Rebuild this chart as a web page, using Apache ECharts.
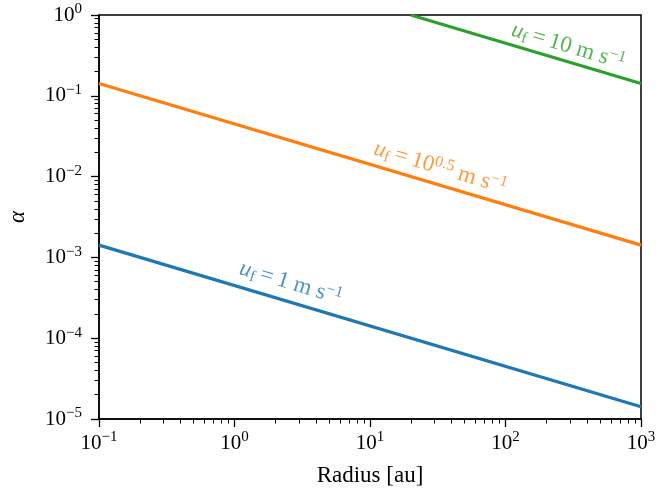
<!DOCTYPE html>
<html lang="en">
<head>
<meta charset="UTF-8">
<title>alpha vs radius</title>
<script src="https://cdn.jsdelivr.net/npm/echarts@6/dist/echarts.min.js"></script>
<style>
  html, body { margin: 0; padding: 0; background: #fff; }
  #main { width: 664px; height: 498px; }
</style>
</head>
<body>
<div id="main"></div>
<script>
// values
var radius = [0.1, 1000];
var alphaSlow = [1.42e-3, 1.42e-5];   // u_f = 1 m/s
var alphaMid = [0.142, 1.42e-3];      // u_f = 10^0.5 m/s
var radiusFast = [20, 1000];
var alphaFast = [1.0, 0.142];         // u_f = 10 m/s

// where the line labels sit (data coords, label centre)
var labelRadius = [2.6, 33, 290];
var labelAlpha = [4.8e-4, 1.28e-2, 0.41];
var labelText = [
    '{i|u}{sub|f}{t|\u2009=\u20091 m s}{sup|\u22121}',
    '{i|u}{sub|f}{t|\u2009=\u200910}{sup|0.5}{t| m s}{sup|\u22121}',
    '{i|u}{sub|f}{t|\u2009=\u200910 m s}{sup|\u22121}'
];
var colors = ['#1f77b4', '#ff7f0e', '#2ca02c'];

var FONT = 'Liberation Serif';

function richStyles(size, color) {
    var small = Math.round(size * 0.7);
    return {
        t: { fontFamily: FONT, fontSize: size, color: color, lineHeight: 26 },
        i: { fontFamily: FONT, fontStyle: 'italic', fontSize: size, color: color, lineHeight: 26 },
        sub: { fontFamily: FONT, fontSize: small, color: color, lineHeight: 15, verticalAlign: 'bottom' },
        sup: { fontFamily: FONT, fontSize: small, color: color, lineHeight: 11, verticalAlign: 'top' }
    };
}

function powLabel(v) {
    var e = Math.round(Math.log10(v));
    return '{t|10}{sup|' + (e < 0 ? '\u2212' + (-e) : e) + '}';
}

function zip(xs, ys) {
    return xs.map(function (x, i) { return [x, ys[i]]; });
}

var axisCommon = {
    type: 'log',
    logBase: 10,
    axisLine: { show: true, lineStyle: { color: '#000', width: 1.5 } },
    axisTick: { show: true, inside: false, length: 8, lineStyle: { color: '#000', width: 1.3 } },
    minorTick: { show: true, splitNumber: 9, length: 4.5, lineStyle: { color: '#000', width: 1 } },
    splitLine: { show: false },
    minorSplitLine: { show: false },
    nameTextStyle: { fontFamily: FONT, fontSize: 23, color: '#000' }
};

var chart = echarts.init(document.getElementById('main'), null, { renderer: 'canvas' });

var option = {
    animation: false,
    backgroundColor: '#fff',
    grid: {
        left: 99, right: 23, top: 15, bottom: 79,
        containLabel: false,
        outerBoundsMode: 'none',
        show: true, borderColor: '#000', borderWidth: 1.5, backgroundColor: 'transparent'
    },
    xAxis: Object.assign({}, axisCommon, {
        min: 0.1, max: 1000,
        name: 'Radius [au]',
        nameLocation: 'middle',
        nameGap: 45,
        axisLabel: { margin: 11, formatter: powLabel, rich: richStyles(21, '#000') }
    }),
    yAxis: Object.assign({}, axisCommon, {
        min: 1e-5, max: 1,
        name: '\u03b1',
        nameLocation: 'middle',
        nameGap: 70,
        nameTextStyle: { fontFamily: FONT, fontStyle: 'italic', fontSize: 23, color: '#000' },
        axisLabel: { margin: 17, formatter: powLabel, rich: richStyles(21, '#000') }
    }),
    series: [
        { type: 'line', data: zip(radius, alphaSlow), showSymbol: false, clip: true,
          lineStyle: { color: colors[0], width: 3.2 } },
        { type: 'line', data: zip(radius, alphaMid), showSymbol: false, clip: true,
          lineStyle: { color: colors[1], width: 3.2 } },
        { type: 'line', data: zip(radiusFast, alphaFast), showSymbol: false, clip: true,
          lineStyle: { color: colors[2], width: 3.2 } }
    ].concat(labelText.map(function (txt, i) {
        return {
            type: 'scatter',
            silent: true,
            symbolSize: 0,
            data: [[labelRadius[i], labelAlpha[i]]],
            label: {
                show: true,
                position: 'inside',
                rotate: -16.6,
                formatter: txt,
                rich: richStyles(23, colors[i])
            }
        };
    }))
};

chart.setOption(option);
</script>
</body>
</html>
